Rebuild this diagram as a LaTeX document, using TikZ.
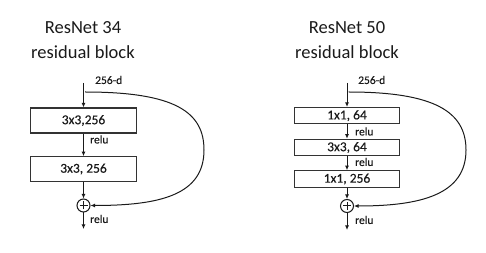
\documentclass[tikz,border=0pt]{standalone}
\usepackage{fontspec}
\setmainfont{Carlito}
\usetikzlibrary{arrows.meta}
\definecolor{ink}{HTML}{1A1A1A}
\definecolor{boxline}{HTML}{333333}
\tikzset{
  layerbox/.style={draw=boxline, line width=1.1pt, inner sep=0pt, minimum width=105.5pt, font=\fontsize{13.5}{13.5}\selectfont\addfontfeature{FakeBold=0.4}, text=ink},
  flow/.style={draw=ink, line width=1pt, -{Latex[length=4.5pt,width=4pt]}},
  skipline/.style={draw=ink, line width=1pt, -{Latex[length=4.5pt,width=4pt]}},
  addnode/.style={circle, draw=ink, line width=1pt, minimum size=13pt, inner sep=0pt},
  smalllab/.style={font=\fontsize{11.5}{11.5}\selectfont\addfontfeature{FakeBold=0.4}, text=ink, anchor=west, inner sep=0pt},
  title/.style={font=\fontsize{18.5}{18.5}\selectfont, text=ink, inner sep=0pt}
}
\begin{document}
\begin{tikzpicture}[x=1pt,y=-1pt]
\useasboundingbox (0,0) rectangle (486,253);
% ---------- ResNet 34 ----------
\node[title] (t34a) at (83,28) {ResNet 34};
\node[title] (t34b) at (83,52) {residual block};
\coordinate (a0) at (83.5,83);
\coordinate (a0s) at (85,92);
\node[layerbox, minimum height=25pt] (a1) at (83.5,120.5) {3x3,256};
\node[layerbox, minimum height=24.5pt] (a2) at (83.5,169) {3x3, 256};
\node[addnode] (aplus) at (83.5,205.5) {};
\draw[ink, line width=1pt] (aplus.center) ++(-4pt,0) -- ++(8pt,0);
\draw[ink, line width=1pt] (aplus.center) ++(0,-4pt) -- ++(0,8pt);
\coordinate (aend) at (83.5,229);
\node[smalllab] (ad) at (95,80) {256-d};
\node[smalllab] (ar1) at (90,139.5) {relu};
\node[smalllab] (ar2) at (90,219) {relu};
\draw[flow] (a0) -- (a1.north);
\draw[flow] (a1.south) -- (a2.north);
\draw[flow] (a2.south) -- (aplus.north);
\draw[flow] (aplus.south) -- (aend);
\draw[skipline] (a0s) .. controls (175,92) and (204,112) .. (204,150)
  .. controls (204,195) and (160,205.5) .. (aplus.east);
% ---------- ResNet 50 ----------
\node[title] (t50a) at (347,28) {ResNet 50};
\node[title] (t50b) at (347,52) {residual block};
\coordinate (b0) at (347,83);
\coordinate (b0s) at (348.5,92);
\node[layerbox, minimum width=105pt, minimum height=16.5pt] (b1) at (347,115.7) {1x1, 64};
\node[layerbox, minimum width=105pt, minimum height=16.5pt] (b2) at (347,147.5) {3x3, 64};
\node[layerbox, minimum width=105pt, minimum height=16.5pt] (b3) at (347,179) {1x1, 256};
\node[addnode] (bplus) at (347,206) {};
\draw[ink, line width=1pt] (bplus.center) ++(-4pt,0) -- ++(8pt,0);
\draw[ink, line width=1pt] (bplus.center) ++(0,-4pt) -- ++(0,8pt);
\coordinate (bend) at (347,230);
\node[smalllab] (bd) at (358,80) {256-d};
\node[smalllab] (br1) at (355,131.5) {relu};
\node[smalllab] (br2) at (355,162) {relu};
\node[smalllab] (br3) at (355,220) {relu};
\draw[flow] (b0) -- (b1.north);
\draw[flow] (b1.south) -- (b2.north);
\draw[flow] (b2.south) -- (b3.north);
\draw[flow] (b3.south) -- (bplus.north);
\draw[flow] (bplus.south) -- (bend);
\draw[skipline] (b0s) .. controls (435,92) and (466,112) .. (466,150)
  .. controls (466,195) and (420,206) .. (bplus.east);
\end{tikzpicture}
\end{document}
